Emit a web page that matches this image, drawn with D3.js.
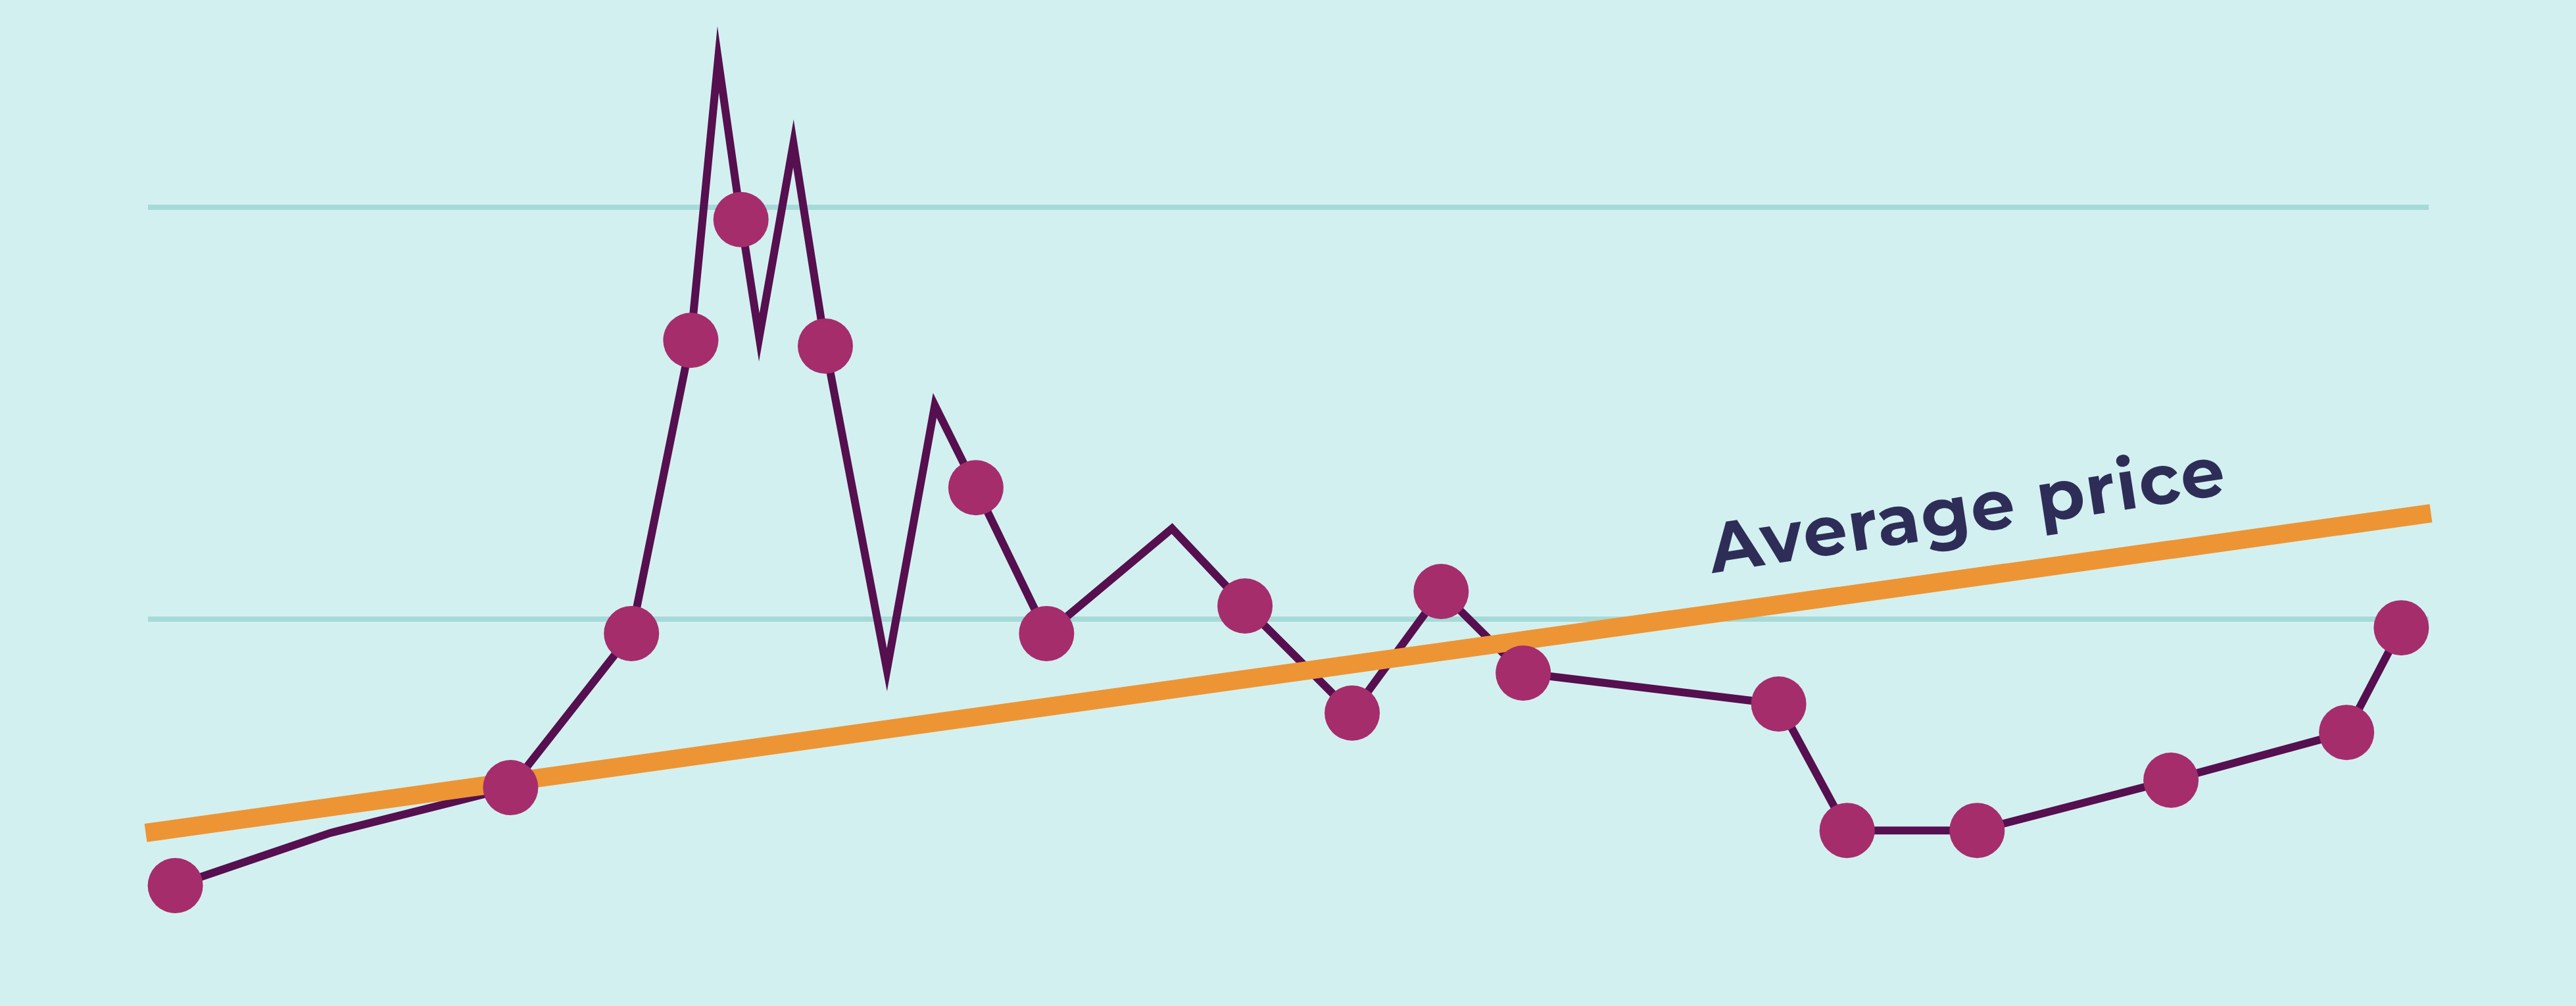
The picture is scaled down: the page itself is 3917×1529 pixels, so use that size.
<!DOCTYPE html>
<html>
<head>
<meta charset="utf-8">
<script src="https://cdn.jsdelivr.net/npm/d3@7"></script>
<style>
  html, body { margin: 0; padding: 0; background: #D3F0F0; overflow: hidden; }
  svg { display: block; }
</style>
</head>
<body>
<svg id="chart"></svg>
<script>
// ---- data ----
const months = [1.2, 8.0, 15.9, 21.2, 23.8, 25.0, 26.0, 26.8, 28.3, 29.7, 32.4, 34.5, 36.3, 39.4, 44.9, 48.1, 52.8, 56.7, 60.3, 71.5, 74.5, 80.2, 88.7, 96.4, 98.8];
const prices = [35.3, 48.1, 59.1, 96.5, 167.7, 235.9, 197.0, 168.4, 215.5, 166.3, 87.7, 151.9, 131.9, 96.5, 122.0, 103.2, 77.2, 106.7, 86.9, 79.4, 48.7, 48.7, 60.9, 72.5, 97.9];
const marked = [true, false, true, true, true, false, true, false, false, true, false, false, true, true, false, true, true, true, true, true, true, true, true, true, true];
const trendMonths = [-0.1, 100.1];
const trendPrices = [48.1, 125.7];
const gridValues = [100, 200];
const gridExtent = [0, 100];
const labelText = "Average price";
const labelAt = { month: 68.6, price: 111.2 };

// ---- layout ----
const W = 3917, H = 1529;
const svg = d3.select("#chart").attr("width", W).attr("height", H);
svg.append("rect").attr("width", W).attr("height", H).attr("fill", "#D3F0F0");

const x = d3.scaleLinear().domain([0, 100]).range([225, 3693]);
const y = d3.scaleLinear().domain([100, 200]).range([941, 315]);

// gridlines
svg.append("g").selectAll("line").data(gridValues).join("line")
  .attr("x1", x(gridExtent[0])).attr("x2", x(gridExtent[1]))
  .attr("y1", d => y(d)).attr("y2", d => y(d))
  .attr("stroke", "#A6DAD9").attr("stroke-width", 8);

// price line
const pts = months.map((m, i) => ({ m, p: prices[i], mk: marked[i] }));
const line = d3.line().x(d => x(d.m)).y(d => y(d.p));
svg.append("path").datum(pts).attr("d", line)
  .attr("fill", "none").attr("stroke", "#560F4F").attr("stroke-width", 12)
  .attr("stroke-linejoin", "miter").attr("stroke-miterlimit", 40);

// trend line
const trend = trendMonths.map((m, i) => ({ m, p: trendPrices[i] }));
svg.append("path").datum(trend).attr("d", line)
  .attr("fill", "none").attr("stroke", "#ED9534").attr("stroke-width", 28)
  .attr("stroke-linecap", "butt");

// markers
svg.append("g").selectAll("circle").data(pts.filter(d => d.mk)).join("circle")
  .attr("cx", d => x(d.m)).attr("cy", d => y(d.p)).attr("r", 42)
  .attr("fill", "#A52D6B");

// label
const lx = x(labelAt.month), ly = y(labelAt.price);
svg.append("text")
  .attr("x", lx).attr("y", ly)
  .attr("transform", `rotate(-8.7, ${lx}, ${ly})`)
  .attr("font-family", "Montserrat, 'DejaVu Sans', sans-serif")
  .attr("font-weight", 700)
  .attr("font-size", 106)
  .attr("fill", "#2E2D58")
  .attr("textLength", 792)
  .attr("lengthAdjust", "spacing")
  .text(labelText);
</script>
</body>
</html>
